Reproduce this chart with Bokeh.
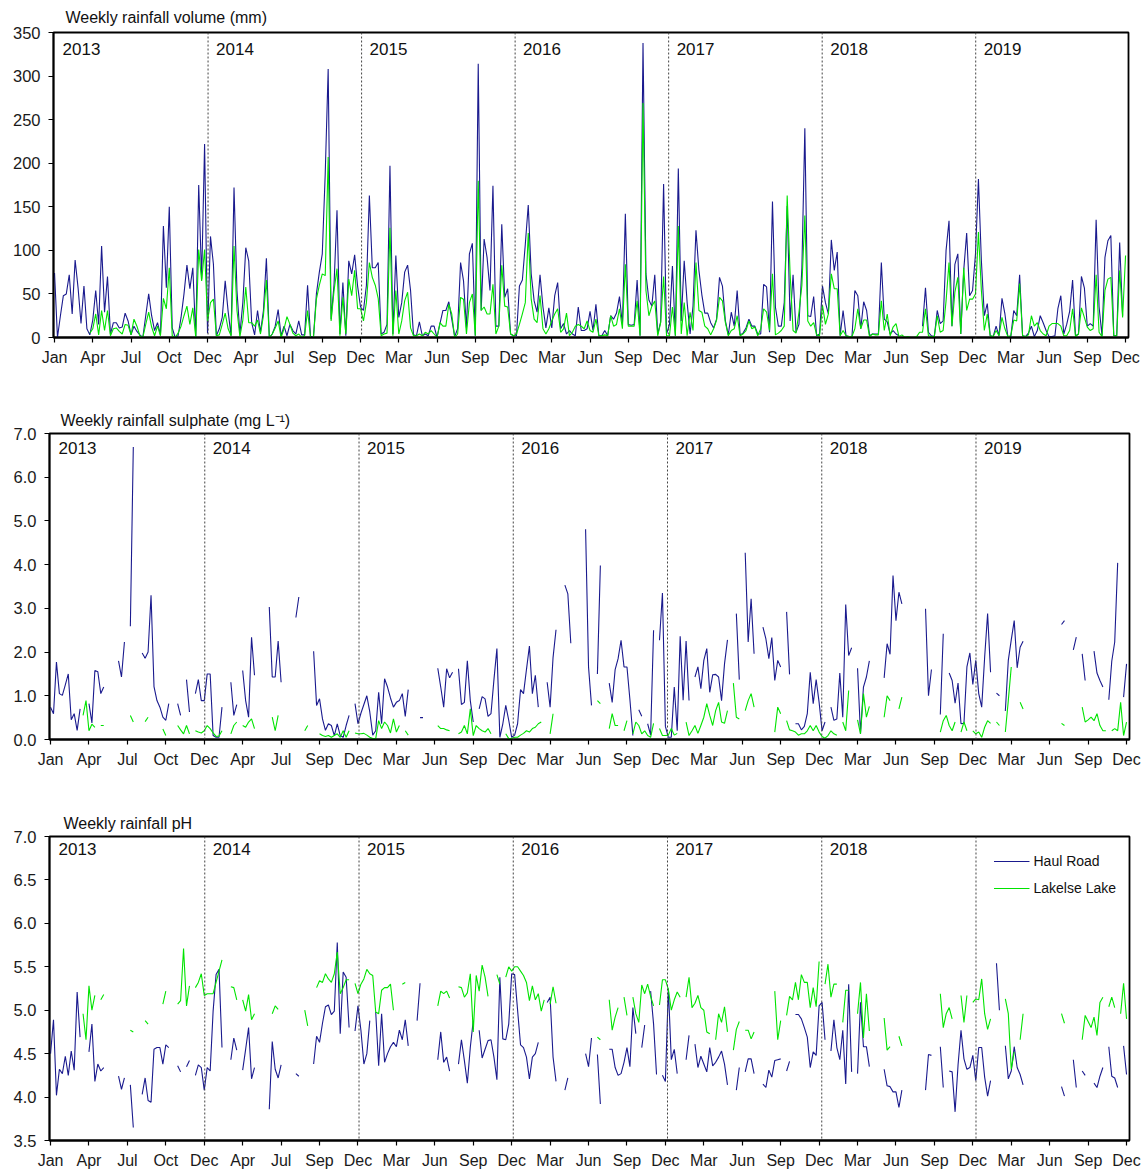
import numpy as np
from bokeh.plotting import figure
from bokeh.layouts import column, row
from bokeh.models import (Range1d, FixedTicker, NumeralTickFormatter, Span, Label,
                          Legend, LegendItem, ColumnDataSource)
from bokeh.embed import file_html
from bokeh.resources import INLINE

N = None  # no sample that week

# ---- weekly series, week 0 = first week of Jan 2013 (365 weeks) ----
vol_haul = [
    # 2013
    74, 0, 25, 48, 50, 72, 27, 89, 57, 16, 59, 10, 3, 20, 54, 15, 105, 29, 70, 4,
    17, 17, 11, 12, 28, 19, 3, 13, 7, 3, 0, 25, 50, 25, 8, 17, 3, 128, 57, 150,
    11, 0, 2, 23, 50, 83, 56, 80, 0, 175, 67, 222,
    # 2014
    5, 116, 84, 2, 10, 23, 65, 30, 2, 172, 54, 4, 40, 103, 88, 17, 3, 31, 6, 31,
    91, 0, 4, 13, 32, 2, 13, 2, 15, 8, 4, 19, 3, 3, 60, 1, 0, 50, 75, 96,
    188, 308, 21, 61, 146, 4, 63, 2, 88, 73, 95, 59,
    # 2015
    35, 31, 60, 163, 80, 80, 86, 4, 6, 15, 197, 4, 94, 23, 40, 75, 83, 54, 3, 2,
    18, 2, 4, 2, 13, 13, 0, 16, 31, 31, 41, 21, 1, 10, 86, 65, 11, 96, 108, 2,
    314, 31, 113, 92, 54, 174, 13, 13, 130, 46, 56, 4,
    # 2016
    2, 2, 59, 66, 107, 152, 73, 42, 29, 72, 35, 11, 34, 11, 48, 63, 10, 16, 4, 8,
    4, 2, 35, 8, 8, 10, 30, 8, 38, 2, 2, 8, 2, 25, 21, 28, 47, 15, 142, 15,
    14, 15, 66, 2, 338, 73, 43, 36, 72, 4, 18, 176,
    # 2017
    4, 15, 82, 2, 194, 19, 88, 40, 4, 36, 123, 77, 49, 28, 28, 17, 11, 21, 69, 59,
    19, 3, 29, 13, 54, 3, 5, 11, 21, 13, 13, 4, 4, 61, 58, 6, 156, 35, 13, 13,
    40, 151, 19, 72, 6, 15, 80, 240, 25, 24, 47, 2,
    # 2018
    4, 59, 40, 27, 112, 77, 98, 2, 31, 2, 1, 0, 54, 48, 10, 41, 31, 2, 4, 4,
    4, 86, 21, 18, 4, 8, 4, 2, N, N, N, N, N, N, N, 13, 57, 6, 2, 1,
    31, 16, 19, 100, 134, 13, 84, 96, 4, 77, 120, 48,
    # 2019
    54, 96, 182, 88, 25, 39, 2, 1, 13, 2, 45, 27, 1, 1, 31, 25, 72, 2, 1, 5,
    13, 1, 8, 25, 17, 8, 1, 1, 2, 33, 48, 4, 15, 30, 66, 2, 4, 70, 57, 13,
    16, 13, 135, 35, 2, 92, 111, 117, 2, 2, 109, 25, N,
]

vol_lake = [
    # 2013
    N, N, N, N, N, N, N, N, N, N, N, N, 5, 10, 27, 3, 31, 8, 31, 2,
    10, 11, 7, 4, 15, 14, 3, 21, 13, 2, 0, 15, 29, 12, 2, 13, 2, 45, 33, 80,
    2, 0, 5, 13, 25, 36, 15, 34, 0, 101, 65, 101,
    # 2014
    19, 40, 44, 2, 3, 15, 28, 10, 2, 105, 31, 1, 20, 58, 17, 17, 13, 20, 4, 25,
    66, 0, 4, 11, 19, 0, 10, 24, 15, 5, 2, 4, 0, 2, 31, 0, 0, 44, 60, 73,
    71, 207, 19, 54, 79, 2, 46, 4, 67, 48, 77, 33,
    # 2015
    33, 19, 40, 86, 69, 60, 45, 2, 4, 5, 126, 2, 54, 4, 19, 42, 52, 11, 2, 2,
    4, 2, 6, 4, 8, 4, 0, 17, 13, 13, 38, 27, 0, 4, 46, 44, 4, 40, 50, 2,
    180, 31, 35, 27, 27, 61, 4, 13, 83, 36, 35, 4,
    # 2016
    2, 4, 15, 27, 40, 120, 44, 21, 17, 48, 10, 4, 10, 19, 27, 33, 6, 10, 28, 2,
    6, 13, 15, 13, 10, 19, 8, 6, 21, 2, 2, 3, 2, 25, 13, 15, 33, 10, 84, 13,
    13, 13, 42, 2, 269, 54, 25, 36, 42, 2, 17, 70,
    # 2017
    2, 2, 35, 2, 128, 4, 40, 2, 29, 8, 86, 31, 29, 13, 10, 3, 10, 20, 46, 42,
    17, 2, 8, 10, 25, 2, 4, 8, 19, 10, 12, 2, 10, 33, 29, 8, 73, 3, 5, 8,
    13, 163, 73, 8, 5, 29, 60, 140, 19, 13, 17, 3,
    # 2018
    2, 37, 15, 27, 73, 56, 56, 2, 8, 2, 1, 1, 10, 33, 10, 20, 20, 1, 4, 3,
    3, 42, 8, 27, 2, 12, 16, 1, 3, 0, 1, 0, 0, 1, 6, 6, 33, 2, 1, 1,
    25, 6, 8, 42, 86, 13, 52, 69, 4, 80, 31, 44,
    # 2019
    44, 50, 121, 54, 8, 27, 2, 1, 8, 2, 23, 10, 1, 2, 20, 19, 62, 2, 1, 3,
    25, 13, 17, 8, 4, 2, 13, 16, 16, 16, 13, 2, 2, 8, 33, 1, 4, 34, 23, 12,
    8, 10, 72, 6, 1, 54, 67, 69, 2, 2, 77, 23, 94,
]

so4_haul = [
    # 2013
    0.74, 0.59, 1.77, 1.05, 1.01, 1.25, 1.5, 0.45, 0.59, 0.21,
    0.7, N, N, 0.82, 0.38, 1.58, 1.55, 1.05, 1.2, N,
    N, N, N, 1.8, 1.43, 2.23, N, 2.59, 6.69, N,
    N, 1.98, 1.86, 2.0, 3.3, 1.21, 0.89, 0.74, 0.51, 0.44,
    0.82, N, N, 0.82, 0.55, N, 1.37, 0.63, N, 1.05,
    1.37, 0.89,
    # 2014
    0.89, 1.5, 1.5, 0.09, 0.05, 0.05, 0.74, N, N, 1.31,
    0.55, 0.8, N, 1.58, 0.89, 0.51, 2.34, 1.47, N, N,
    N, N, 3.03, 1.43, 1.43, 2.25, 1.31, N, N, N,
    N, 2.79, 3.26, N, N, N, N, 2.02, 0.78, 0.93,
    0.47, 0.21, 0.36, 0.32, 0.09, 0.36, 0.09, 0.05, 0.32, 0.55,
    N, 0.82,
    # 2015
    0.36, 0.6, 0.8, 1.0, 0.63, 0.1, 0.2, 1.08, 0.36, 1.39,
    1.2, 0.95, 0.74, 0.85, 0.89, 1.05, 0.53, 1.14, N, N,
    N, 0.5, 0.5, N, N, N, N, 1.63, 1.2, 0.74,
    1.62, 1.41, 1.54, N, 1.62, 0.8, 0.85, 1.8, 0.89, 0.4,
    N, 0.7, 0.98, 0.93, 0.53, 0.59, 1.37, 2.08, 0.05, 0.36,
    0.78, 0.44,
    # 2016
    0.05, 0.1, 0.36, 1.14, 1.05, 1.6, 2.14, 1.05, 1.47, 0.74,
    N, N, 1.31, 0.74, 1.88, 2.51, N, N, 3.53, 3.33,
    2.2, N, N, N, N, 4.81, 1.66, 0.78, N, 1.5,
    3.98, N, N, 1.29, 0.85, 1.6, 1.85, 2.27, 1.66, 1.66,
    0.91, 0.09, N, 0.68, 0.53, N, 0.36, 0.1, 2.5, N,
    2.27, 3.35,
    # 2017
    0.3, 0.05, 0.05, 1.2, 0.2, 2.36, 0.9, 2.25, 0.89, N,
    1.43, 1.66, 1.16, 1.81, 2.08, 1.08, 1.48, 1.49, 1.43, 0.89,
    1.73, 2.28, N, N, 2.88, 1.37, N, 4.27, 2.23, 3.22,
    1.96, N, N, 2.57, 2.3, 1.85, 2.33, 1.35, 1.81, 1.66,
    N, 2.92, 1.49, N, 0.36, 0.36, 0.22, 0.3, 0.59, 1.54,
    0.82, 1.37,
    # 2018
    0.85, 0.2, 0.4, N, 0.74, 0.44, 0.47, 1.52, 0.51, 3.09,
    1.92, 2.1, N, 1.63, 0.13, 1.2, 1.43, 1.8, N, N,
    N, N, 1.41, 2.19, 1.95, 3.75, 2.72, 3.37, 3.1, N,
    N, N, N, N, N, N, 2.99, 1.0, 1.6, N,
    N, 0.57, 2.42, N, 1.52, 1.35, 0.83, 1.29, 0.36, 0.37,
    1.66, 1.98,
    # 2019
    1.26, 1.81, 1.05, 0.74, 1.88, 2.88, 1.54, N, 1.06, 1.0,
    N, 0.65, 1.81, 2.28, 2.72, 1.64, 2.11, 2.25, N, N,
    N, N, N, N, N, N, N, N, N, N,
    2.63, 2.72, N, N, 2.05, 2.34, N, 1.96, 1.35, N,
    N, 2.02, 1.52, 1.35, 1.2, N, 0.91, 1.79, 2.23, 4.04,
    N, 0.97, 1.73,
]

so4_lake = [
    # 2013
    N, N, N, N, N, N, N, N, N, N,
    N, 0.55, 0.89, 0.2, 0.35, 0.28, N, 0.32, 0.32, N,
    N, N, N, N, N, N, N, 0.55, 0.4, N,
    N, N, 0.41, 0.51, N, N, N, N, 0.24, 0.09,
    N, N, N, 0.32, 0.22, 0.13, 0.32, 0.13, N, 0.2,
    0.17, 0.15,
    # 2014
    0.2, 0.32, 0.25, 0.15, 0.07, 0.08, 0.2, N, N, 0.13,
    0.32, 0.4, N, 0.32, 0.28, 0.4, 0.47, 0.25, N, N,
    N, N, N, 0.51, 0.2, 0.55, N, N, N, N,
    N, N, N, N, 0.2, 0.32, N, N, N, 0.13,
    0.09, 0.07, 0.09, 0.05, 0.09, 0.13, 0.05, 0.2, 0.05, 0.2,
    N, 0.15,
    # 2015
    0.13, 0.13, 0.14, 0.1, 0.05, 0.02, 0.02, 0.43, 0.25, 0.4,
    0.32, 0.15, 0.47, 0.17, 0.32, N, 0.2, 0.1, N, N,
    N, N, N, N, N, N, N, 0.32, 0.25, 0.25,
    0.22, 0.2, N, N, 0.13, 0.17, 0.32, 0.13, 0.7, 0.09,
    0.32, 0.25, 0.2, 0.17, 0.25, 0.13, N, N, N, N,
    0.13, 0.02,
    # 2016
    0.02, 0.05, 0.05, 0.1, 0.14, 0.2, 0.17, 0.25, 0.28, 0.36,
    0.4, N, N, 0.13, 0.59, N, N, N, N, N,
    N, N, N, N, N, N, N, N, N, 0.89,
    0.82, N, N, 0.25, 0.59, 0.32, 0.32, N, 0.2, 0.43,
    N, 0.13, 0.4, 0.32, 0.13, 0.2, 0.09, 0.05, 0.37, N,
    0.25, 0.09,
    # 2017
    0.09, 0.1, 0.25, 0.1, 0.14, N, N, 0.4, 0.09, 0.2,
    0.32, 0.14, 0.32, 0.51, 0.82, 0.55, 0.32, 0.66, 0.85, 0.4,
    0.37, 0.66, N, 1.29, 0.51, 0.47, N, 0.66, 0.89, 1.05,
    0.74, N, N, N, N, N, N, 0.17, 0.74, 0.59,
    N, 0.43, 0.22, 0.2, 0.17, 0.1, 0.13, 0.13, 0.2, 0.32,
    0.2, 0.32,
    # 2018
    0.17, 0.07, 0.03, 0.09, 0.2, 0.13, 0.1, N, 0.4, 0.2,
    1.12, N, N, 0.45, 0.13, 1.05, 0.51, 0.76, N, N,
    N, N, 0.51, 1.0, 0.89, N, N, 0.7, 0.97, N,
    N, N, N, N, N, N, N, N, N, N,
    N, 0.17, 0.43, 0.55, 0.32, 0.2, 0.4, N, 0.17, 0.4,
    0.2, N,
    # 2019
    0.2, 0.13, 0.17, 0.05, 0.28, 0.43, 0.37, N, 0.4, 0.32,
    N, 0.17, 0.89, 1.66, N, N, 0.85, 0.7, N, N,
    N, N, N, N, N, N, N, N, N, N,
    0.37, 0.32, N, N, N, N, N, 0.74, 0.4, 0.45,
    0.51, 0.43, 0.59, 0.32, 0.2, 0.2, N, 0.2, 0.25, 0.2,
    0.85, 0.09, 0.4,
]

ph_haul = [
    # 2013
    4.5, 4.89, 4.02, 4.32, 4.27, 4.47, 4.25, 4.53, 4.31, 5.21,
    4.69, N, N, 4.52, 4.84, 4.18, 4.38, 4.3, 4.34, N,
    N, N, N, 4.24, 4.09, 4.22, N, 4.14, 3.65, N,
    N, 4.03, 4.22, 3.96, 3.94, 4.55, 4.57, 4.57, 4.38, 4.6,
    4.57, N, N, 4.36, 4.29, N, 4.35, 4.42, N, 4.25,
    4.37, 4.34,
    # 2014
    4.08, 4.34, 4.3, 4.99, 5.41, 5.47, 4.57, N, N, 4.43,
    4.68, 4.54, N, 4.31, 4.55, 4.8, 4.21, 4.34, N, N,
    N, N, 3.86, 4.64, 4.32, 4.22, 4.37, N, N, N,
    N, 4.27, 4.24, N, N, N, N, 4.38, 4.7, 4.63,
    4.85, 5.04, 5.06, 4.95, 4.99, 5.78, 4.73, 5.44, 5.38, 4.8,
    N, 4.76,
    # 2015
    5.05, 4.77, 4.38, 4.5, 4.88, N, 4.98, 4.36, 4.96, 4.4,
    4.5, 4.58, 4.63, 4.58, 4.77, 4.66, 4.89, 4.59, N, N,
    4.88, 5.31, N, N, N, N, N, 4.43, 4.75, 4.4,
    4.46, 4.3, N, N, 4.38, 4.66, 4.42, 4.16, 4.57, 4.88,
    N, 4.77, 4.45, 4.55, 4.65, 4.66, 4.46, 4.2, 5.38, 4.67,
    4.66, 4.84,
    # 2016
    5.42, 5.41, 5.0, 4.6, 4.57, 4.46, 4.21, 4.46, 4.5, 4.63,
    N, N, 5.09, 5.15, 4.46, 4.18, N, N, 4.08, 4.22,
    N, N, N, N, N, 4.5, 4.35, 4.68, N, 4.49,
    3.92, N, N, 4.55, 4.55, 4.34, 4.25, 4.27, 4.4, 4.57,
    4.35, 5.03, 4.73, N, 4.57, 4.83, N, 5.22, 4.84, 4.26,
    N, 4.25,
    # 2017
    4.18, 5.25, 4.43, 4.55, 4.27, N, N, 4.43, 4.71, N,
    4.61, 4.34, 4.47, 4.38, 4.29, 4.57, 4.36, 4.4, 4.46, 4.53,
    4.38, 4.14, N, N, 4.08, 4.34, N, 4.29, 4.44, 4.44,
    4.27, N, N, 4.15, 4.11, 4.31, 4.23, 4.42, 4.43, 4.44,
    N, 4.3, 4.41, N, 4.95, 4.95, 4.9, 4.8, 4.69, 4.34,
    4.52, 4.48,
    # 2018
    5.05, 5.09, 4.66, N, 4.53, 4.89, 4.57, 4.43, 4.77, 4.15,
    5.3, 4.29, N, 4.27, 5.09, 4.58, 4.58, 4.35, N, N,
    N, N, 4.32, 4.13, 4.12, 4.06, 4.06, 3.88, 4.08, N,
    N, N, N, N, N, N, 4.08, 4.49, 4.48, N,
    N, 4.58, 4.11, N, 4.3, 4.29, 3.83, 4.37, 4.77, 4.44,
    4.32, 4.34,
    # 2019
    4.48, 4.19, 4.57, 4.57, 4.23, 4.01, 4.19, N, 5.54, 5.0,
    N, 4.59, 4.21, 4.3, 4.58, 4.34, 4.26, 4.14, N, N,
    N, N, N, N, N, N, N, N, N, N,
    4.12, 4.01, N, N, 4.43, 4.11, N, 4.3, 4.25, N,
    N, 4.16, 4.11, 4.24, 4.34, N, 4.58, 4.24, 4.22, 4.11,
    N, 4.59, 4.26,
]

ph_lake = [
    # 2013
    N, N, N, N, N, N, N, N, N, N,
    N, 4.96, 4.66, 5.28, 5.0, 5.17, N, 5.12, 5.18, N,
    N, N, N, N, N, N, N, 4.77, 4.75, N,
    N, N, 4.88, 4.84, N, N, N, N, 5.07, 5.22,
    N, N, N, 5.07, 5.11, 5.71, 5.05, 5.28, N, 5.26,
    5.32, 5.42,
    # 2014
    5.17, 5.19, 5.19, 5.19, 5.32, 5.45, 5.58, N, N, 5.27,
    5.26, 5.12, N, 5.12, 4.99, 5.18, 4.89, 4.96, N, N,
    N, N, N, 4.96, 5.05, 5.01, N, N, N, N,
    N, N, N, N, 5.0, 4.82, N, N, 5.26, 5.34,
    5.32, 5.42, 5.36, 5.32, 5.42, 5.67, 5.19, 5.26, 5.35, 5.35,
    N, 5.31,
    # 2015
    5.19, 5.3, 5.36, 5.47, 5.42, 5.4, 4.98, 4.96, 5.23, 5.26,
    5.26, 5.3, 5.0, N, N, 5.3, 5.32, N, N, N,
    N, N, N, N, N, N, N, 5.05, 5.22, 5.19,
    5.22, 5.14, N, N, 5.27, 5.26, 5.15, 5.2, 5.42, 4.75,
    5.4, 5.22, 5.52, 5.38, 5.16, N, N, 5.41, 5.3, N,
    5.38, 5.5,
    # 2016
    5.45, 5.5, 5.5, 5.45, 5.4, 5.32, 5.11, 5.28, 5.12, 5.19,
    4.99, 5.12, N, 5.07, 5.27, 5.08, N, N, N, N,
    N, N, N, N, N, N, N, N, N, 4.69,
    4.66, N, N, 5.12, 4.77, 4.92, 5.03, N, 5.15, 4.94,
    N, 5.15, 4.96, 4.86, 5.29, 5.19, 5.3, 5.16, 5.05, N,
    5.06, 5.35,
    # 2017
    5.35, 5.24, 5.0, 5.12, 5.21, 5.15, N, 5.15, 5.38, 5.03,
    5.08, 5.17, 5.03, 5.0, 4.75, 4.73, N, 4.66, 4.96, 4.86,
    5.04, 4.75, N, 4.54, 4.78, 4.87, N, 4.77, 4.77, 4.67,
    4.75, N, N, N, N, N, N, 5.22, 4.66, 4.88,
    N, 4.94, 5.16, 5.12, 5.32, 5.12, 5.41, 5.32, 5.32, 5.03,
    5.26, 5.04,
    # 2018
    5.56, N, 5.3, 5.53, 5.15, 5.3, 5.3, N, 4.86, 5.23,
    5.23, N, N, 4.96, 5.32, 4.68, 5.19, 4.76, N, N,
    N, N, 4.91, 4.54, 4.58, N, N, 4.7, 4.59, N,
    N, N, N, N, N, N, N, N, N, N,
    N, 5.19, 4.8, 4.96, 5.03, 4.9, N, N, 5.17, 4.86,
    5.17, N,
    # 2019
    5.09, 5.13, 5.12, 5.36, 4.96, 4.78, 4.9, N, N, N,
    N, 5.13, 4.96, 4.32, 4.52, N, 4.66, 4.96, N, N,
    N, N, N, N, N, N, N, N, N, N,
    4.96, 4.85, N, N, N, N, N, 4.66, 4.94, 4.87,
    4.8, 4.92, 4.71, 5.09, 5.15, N, 5.04, 5.15, 5.03, N,
    4.96, 5.31, 4.9,
]

years = ["2013", "2014", "2015", "2016", "2017", "2018", "2019"]
tick_weeks = list(range(0, 365, 13))
month_labels = ["Jan", "Apr", "Jul", "Oct", "Dec",
                "Apr", "Jul", "Sep", "Dec",
                "Mar", "Jun", "Sep", "Dec",
                "Mar", "Jun", "Sep", "Dec",
                "Mar", "Jun", "Sep", "Dec",
                "Mar", "Jun", "Sep", "Dec",
                "Mar", "Jun", "Sep", "Dec"]

N_WEEKS = 365
for name, s in [("vol_haul", vol_haul), ("vol_lake", vol_lake), ("so4_haul", so4_haul),
                ("so4_lake", so4_lake), ("ph_haul", ph_haul), ("ph_lake", ph_lake)]:
    if len(s) != N_WEEKS:
        raise ValueError(f"{name} has {len(s)} weeks")

FONT = "Liberation Sans"
HAUL_COLOR = "#1a1a8e"
LAKE_COLOR = "#00e400"
week = np.arange(N_WEEKS)
year_edges = [k * 365.25 / 7 for k in range(7)]


def make_panel(title, title_offset, title_standoff, y0, y1, yticks, yfmt, left, frame_w,
               right, top, frame_h, bottom, haul, lake, year_labels, year_dy, legend=False):
    p = figure(frame_width=frame_w, frame_height=frame_h,
               x_range=Range1d(-0.35, 365.0), y_range=Range1d(y0, y1),
               output_backend="svg", toolbar_location=None,
               min_border_left=left, min_border_right=right,
               min_border_top=top, min_border_bottom=bottom,
               background_fill_color="white", border_fill_color="white")
    p.title.text = title
    p.title.align = "left"
    p.title.offset = title_offset
    p.title.standoff = title_standoff
    p.title.text_font = FONT
    p.title.text_font_size = "16px"
    p.title.text_font_style = "normal"
    p.title.text_color = "#111111"

    p.grid.visible = False
    p.outline_line_color = "black"
    p.outline_line_width = 1.8
    p.outline_line_alpha = 1.0

    for ax in (p.xaxis[0], p.yaxis[0]):
        ax.axis_line_color = "black"
        ax.axis_line_width = 1.8
        ax.major_tick_line_color = "black"
        ax.major_tick_line_width = 1.2
        ax.major_tick_out = 5
        ax.major_tick_in = 0
        ax.minor_tick_line_color = None
        ax.major_label_text_font = FONT
        ax.major_label_text_color = "#1a1a1a"

    p.xaxis.ticker = FixedTicker(ticks=tick_weeks)
    p.xaxis.major_label_overrides = {t: m for t, m in zip(tick_weeks, month_labels)}
    p.xaxis.major_label_text_font_size = "16px"
    p.xaxis.major_label_standoff = 6

    p.yaxis.ticker = FixedTicker(ticks=yticks)
    p.yaxis.formatter = NumeralTickFormatter(format=yfmt)
    p.yaxis.major_label_text_font_size = "16.5px"
    p.yaxis.major_label_standoff = 8

    for edge in year_edges[1:]:
        p.add_layout(Span(location=edge, dimension="height", line_color="#444444",
                          line_dash="2 2", line_width=1))
    for edge, lab in zip(year_edges, year_labels):
        p.add_layout(Label(x=edge, y=y1, x_offset=8, y_offset=year_dy, text=lab,
                           text_baseline="top", text_align="left",
                           text_font=FONT, text_font_size="17px",
                           text_color="#111111"))

    src = ColumnDataSource(dict(x=week,
                                haul=np.array(haul, dtype=float),
                                lake=np.array(lake, dtype=float)))
    r_haul = p.line("x", "haul", source=src, line_color=HAUL_COLOR, line_width=1.1)
    r_lake = p.line("x", "lake", source=src, line_color=LAKE_COLOR, line_width=1.1)

    if legend:
        leg = Legend(items=[LegendItem(label="Haul Road", renderers=[r_haul]),
                            LegendItem(label="Lakelse Lake", renderers=[r_lake])],
                     location="top_right", margin=13, padding=0, spacing=3,
                     glyph_width=36, glyph_height=24, label_height=24,
                     label_standoff=4, label_text_font=FONT,
                     label_text_font_size="14px", label_text_color="#111111",
                     border_line_alpha=0, background_fill_alpha=0)
        p.add_layout(leg)
    return p


p_vol = make_panel("Weekly rainfall volume (mm)", 12, 13, 0, 350,
                   list(range(0, 351, 50)), "0",
                   53, 1075, 19, 32, 305, 66, vol_haul, vol_lake, years, -10)
p_so4 = make_panel("Weekly rainfall sulphate (mg L\u207b\u00b9)", 11, 10, 0, 7,
                   [0, 1, 2, 3, 4, 5, 6, 7], "0.0",
                   49, 1080, 18, 30, 306, 67, so4_haul, so4_lake, years, -8)
p_ph = make_panel("Weekly rainfall pH", 14, 10, 3.5, 7.0,
                  [3.5, 4.0, 4.5, 5.0, 5.5, 6.0, 6.5, 7.0], "0.0",
                  49, 1080, 18, 30, 304, 31, ph_haul, ph_lake, years[:6], -6, legend=True)

# each panel sits in its own row so that the frames keep their own left borders
page = column(row(p_vol), row(p_so4), row(p_ph), spacing=0)
open("out.html", "w").write(file_html(page, INLINE))
